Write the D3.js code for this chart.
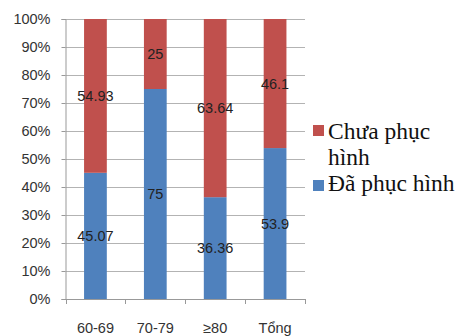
<!DOCTYPE html>
<html><head><meta charset="utf-8">
<script src="https://d3js.org/d3.v7.min.js"></script>
<style>body{margin:0;background:#fff}svg{display:block}</style>
</head><body>
<script>
const categories = ["60-69", "70-79", "≥80", "Tổng"];
const daPhucHinh = [45.07, 75, 36.36, 53.9];
const chuaPhucHinh = [54.93, 25, 63.64, 46.1];
const yTicks = [0, 10, 20, 30, 40, 50, 60, 70, 80, 90, 100];
const seriesNames = ["Chưa phục hình", "Đã phục hình"];
const colors = {chua: "#C0504D", da: "#4F81BD"};

const W = 459, H = 336;
const m = {left: 65.5, right: 154, top: 19, bottom: 37};
const svg = d3.select("body").append("svg").attr("width", W).attr("height", H);

const x = d3.scaleBand().domain(categories).range([m.left, W - m.right]).paddingInner(0.62).paddingOuter(0.31);
const y = d3.scaleLinear().domain([0, 100]).range([H - m.bottom, m.top]);
const font = "'Liberation Sans', Arial, sans-serif";

// gridlines
svg.append("g").selectAll("line").data(yTicks.filter(d => d > 0)).join("line")
  .attr("x1", m.left).attr("x2", W - m.right)
  .attr("y1", d => Math.round(y(d)) + 0.5).attr("y2", d => Math.round(y(d)) + 0.5)
  .attr("stroke", "#b3b3b3").attr("stroke-width", 1);

// y axis
const yAxis = d3.axisLeft(y).tickValues(yTicks).tickFormat(d => d + "%").tickSize(4).tickPadding(11);
const gy = svg.append("g").attr("transform", `translate(${m.left},0)`).call(yAxis);
gy.select(".domain").attr("stroke", "#999");
gy.selectAll(".tick line").attr("stroke", "#999");
gy.selectAll("text").attr("font-family", font).attr("font-size", 14.5).attr("fill", "#333");

// stacked bars
const stack = categories.map((c, i) => ({c, da: daPhucHinh[i], chua: chuaPhucHinh[i]}));
const g = svg.append("g");
g.selectAll(".da").data(stack).join("rect")
  .attr("x", d => x(d.c)).attr("width", x.bandwidth())
  .attr("y", d => y(d.da)).attr("height", d => y(0) - y(d.da)).attr("fill", colors.da);
g.selectAll(".chua").data(stack).join("rect")
  .attr("x", d => x(d.c)).attr("width", x.bandwidth())
  .attr("y", d => y(d.da + d.chua)).attr("height", d => y(d.da) - y(d.da + d.chua)).attr("fill", colors.chua);

// data labels
const lbl = (sel, acc, mid) => sel.join("text")
  .attr("x", d => x(d.c) + x.bandwidth() / 2).attr("y", mid)
  .attr("text-anchor", "middle").attr("dy", "0.35em")
  .attr("font-family", font).attr("font-size", 14.5).attr("fill", "#222").text(acc);
lbl(svg.append("g").selectAll("text").data(stack), d => d.da, d => y(d.da / 2));
lbl(svg.append("g").selectAll("text").data(stack), d => d.chua, d => y(d.da + d.chua / 2));

// x axis
const xAxis = d3.axisBottom(x).tickSize(0).tickPadding(24);
const gx = svg.append("g").attr("transform", `translate(0,${y(0)})`).call(xAxis);
gx.select(".domain").attr("stroke", "#999");
gx.selectAll("text").attr("font-family", font).attr("font-size", 14.5).attr("fill", "#333");
// category boundary ticks
const bounds = categories.map(c => x(c) - x.step() * x.paddingInner() / 2).concat([W - m.right]);
svg.append("g").selectAll("line").data(bounds).join("line")
  .attr("x1", d => Math.round(d) + 0.5).attr("x2", d => Math.round(d) + 0.5)
  .attr("y1", y(0)).attr("y2", y(0) + 5).attr("stroke", "#999");

// legend
const serif = "'Liberation Serif', 'Times New Roman', serif";
const leg = svg.append("g");
leg.append("rect").attr("x", 313).attr("y", 125).attr("width", 11).attr("height", 11).attr("fill", colors.chua);
leg.append("rect").attr("x", 313).attr("y", 180).attr("width", 11).attr("height", 11).attr("fill", colors.da);
const t1 = leg.append("text").attr("font-family", serif).attr("font-size", 23.5).attr("fill", "#111");
t1.append("tspan").attr("x", 328).attr("y", 139).text("Chưa phục");
t1.append("tspan").attr("x", 328).attr("y", 165).text("hình");
leg.append("text").attr("font-family", serif).attr("font-size", 23.5).attr("fill", "#111")
  .attr("x", 328).attr("y", 191).text(seriesNames[1]);
</script>
</body></html>
